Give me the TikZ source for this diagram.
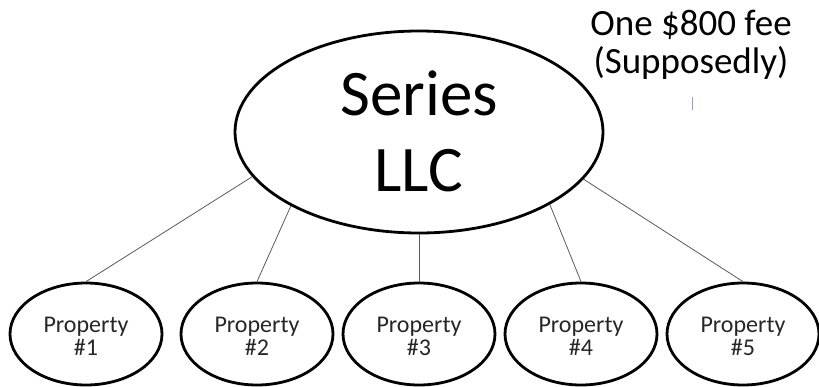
\documentclass[tikz,border=0pt]{standalone}
\usepackage{fontspec}
\setmainfont{Carlito}
\usetikzlibrary{shapes.geometric}
\definecolor{tickgray}{RGB}{150,162,185}
\begin{document}
\begin{tikzpicture}[x=1pt,y=-1pt,
  bigell/.style={ellipse,draw=black,line width=2.8pt,inner sep=0pt,minimum width=368pt,minimum height=202pt},
  propell/.style={ellipse,draw=black,line width=2.8pt,inner sep=0pt,minimum width=152pt,minimum height=102pt},
  proptext/.style={align=center,font=\fontsize{24}{23}\selectfont,text=black!85},
  conn/.style={draw=black!65,line width=0.8pt}]
\useasboundingbox (0,0) rectangle (819,386);
\node[bigell] (big) at (419,132) {};
\node[align=center,font=\fontsize{65}{76}\selectfont] (bigtext) at (419,131) {Series\\LLC};
\foreach \i/\x in {1/86,2/257,3/419,4/581,5/743}{
  \node[propell] (p\i) at (\x,334) {};
  \node[proptext] (t\i) at (\x,336) {Property\\\#\i};
}
\draw[conn] (big.195.5) -- (p1.north);
\draw[conn] (big.210) -- (p2.north);
\draw[conn] (big.south) -- (p3.north);
\draw[conn] (big.331) -- (p4.north);
\draw[conn] (big.344.5) -- (p5.north);
\node[align=center,font=\fontsize{37}{38}\selectfont] (fee) at (691,45) {One \$800 fee\\(Supposedly)};
\coordinate (tickA) at (692,97);
\coordinate (tickB) at (692,110);
\draw[draw=tickgray,line width=1pt] (tickA) -- (tickB);
\end{tikzpicture}
\end{document}
